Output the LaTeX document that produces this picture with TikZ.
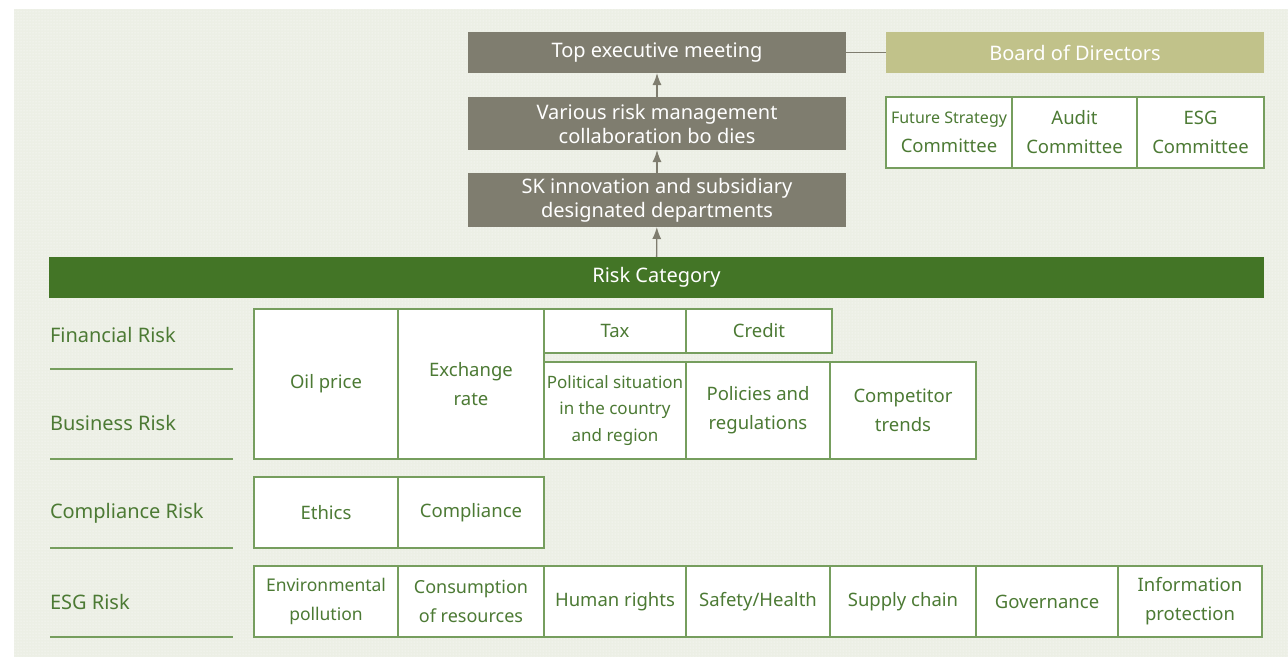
\documentclass[tikz,border=0pt]{standalone}
\usepackage{fontspec}
\setmainfont{Noto Sans}
\usetikzlibrary{arrows.meta,patterns}
\definecolor{bggreen}{RGB}{236,239,229}
\definecolor{mgray}{RGB}{127,125,111}
\definecolor{boardol}{RGB}{193,194,138}
\definecolor{dgreen}{RGB}{67,117,38}
\definecolor{tgreen}{RGB}{76,122,52}
\definecolor{lgreen}{RGB}{118,158,94}

\begin{document}
\begin{tikzpicture}[x=1pt,y=-1pt,
  every node/.style={font=\fontsize{18.5}{29}\selectfont,inner sep=0pt,outer sep=0pt,anchor=north west},
  big/.style={font=\fontsize{20}{24}\selectfont},
  mgmt/.style={big,fill=mgray,text=white,align=center,minimum width=378pt},
  cell/.style={draw=lgreen,line width=1.2pt,fill=white,text=tgreen,align=center},
  rlabel/.style={big,anchor=west,text=tgreen},
  rule/.style={draw=lgreen,line width=1.2pt}
  ]
  \useasboundingbox (0,0) rectangle (1288,657);
  \fill[bggreen] (14,9) rectangle (1288,657);
  \fill[pattern=dots,pattern color=white] (14,9) rectangle (1288,657);

  % management chain
  \node[mgmt,minimum height=41pt] (NTop) at (468,32) {Top executive meeting};
  \node[mgmt,minimum height=53pt] (NCollab) at (468,97) {Various risk management\\collaboration bo dies};
  \node[mgmt,minimum height=54pt] (NDept) at (468,173) {SK innovation and subsidiary\\designated departments};
  \node[big,fill=boardol,text=white,minimum width=378pt,minimum height=41pt,align=center] (NBoard) at (886,32) {Board of Directors};

  % committees
  \node[cell,minimum width=126pt,minimum height=71pt] (NFut) at (886,97) {{\fontsize{16}{29}\selectfont Future Strategy}\\Committee};
  \node[cell,minimum width=125pt,minimum height=71pt] (NAud) at (1012,97) {Audit\\Committee};
  \node[cell,minimum width=127pt,minimum height=71pt] (NEsgC) at (1137,97) {ESG\\Committee};

  \node[big,fill=dgreen,text=white,minimum width=1215pt,minimum height=41pt,align=center] (NCat) at (49,257) {Risk Category};

  % risk rows
  \node[rlabel] (NFinL) at (50,335) {Financial Risk};
  \node[rlabel] (NBusL) at (50,423) {Business Risk};
  \node[rlabel] (NCplL) at (50,513) {Compliance Risk};
  \node[rlabel] (NEsgL) at (50,602) {ESG Risk};
  \foreach \y in {369,459,548,637}
    \draw[rule] (50,\y) -- (233,\y);

  \node[cell,minimum width=144pt,minimum height=150pt] (NOil) at (254,309) {Oil price};
  \node[cell,minimum width=146pt,minimum height=150pt] (NExch) at (398,309) {Exchange\\rate};
  \node[cell,minimum width=142pt,minimum height=44pt] (NTax) at (544,309) {Tax};
  \node[cell,minimum width=146pt,minimum height=44pt] (NCredit) at (686,309) {Credit};
  \node[cell,minimum width=142pt,minimum height=97pt,font=\fontsize{17}{26.5}\selectfont] (NPol) at (544,362) {Political situation\\in the country\\and region};
  \node[cell,minimum width=144pt,minimum height=97pt] (NPolicy) at (686,362) {Policies and\\regulations};
  \node[cell,minimum width=146pt,minimum height=97pt] (NCompet) at (830,362) {Competitor\\trends};

  \node[cell,minimum width=144pt,minimum height=71pt] (NEthics) at (254,477) {Ethics};
  \node[cell,minimum width=146pt,minimum height=71pt] (NCompl) at (398,477) {Compliance};

  \node[cell,minimum width=144pt,minimum height=71pt,font=\fontsize{17.5}{29}\selectfont] (NEnv) at (254,566) {Environmental\\pollution};
  \node[cell,minimum width=146pt,minimum height=71pt,font=\fontsize{18}{29}\selectfont] (NRes) at (398,566) {Consumption\\of resources};
  \node[cell,minimum width=142pt,minimum height=71pt] (NHum) at (544,566) {Human rights};
  \node[cell,minimum width=144pt,minimum height=71pt] (NSafe) at (686,566) {Safety/Health};
  \node[cell,minimum width=146pt,minimum height=71pt] (NSupply) at (830,566) {Supply chain};
  \node[cell,minimum width=142pt,minimum height=71pt] (NGov) at (976,566) {Governance};
  \node[cell,minimum width=144pt,minimum height=71pt] (NInfo) at (1118,566) {Information\\protection};

  \path[-{Latex[length=12pt,width=9pt]},mgray,draw,line width=1.3pt]
  (NCat)    edge (NDept)
  (NDept)   edge (NCollab)
  (NCollab) edge (NTop)
  ;
  \draw[mgray,line width=1.2pt] (NTop) -- (NBoard);
\end{tikzpicture}
\end{document}
